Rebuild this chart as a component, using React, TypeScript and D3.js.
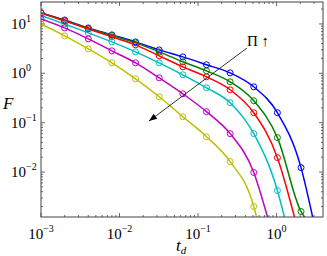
import React, { useEffect, useRef } from 'react';
import * as d3 from 'd3';

// sample times (markers), doubling from 1e-3
const times = [0.001, 0.002, 0.004, 0.008, 0.016, 0.032, 0.064, 0.128, 0.256, 0.512, 1.024, 2.048];

// F values, one array per curve (Pi increasing top to bottom)
const blueF = [16.7, 12.0, 8.3, 6.0, 4.33, 2.98, 2.15, 1.49, 1.02, 0.533, 0.159, 0.0123];
const greenF = [16.7, 11.8, 8.1, 5.86, 4.13, 2.72, 1.71, 1.12, 0.673, 0.278, 0.0498, 0.00159];
const redF = [16.7, 11.5, 7.92, 5.46, 3.77, 2.26, 1.35, 0.849, 0.464, 0.159, 0.0196];
const cyanF = [14.9, 10.0, 6.58, 4.33, 2.72, 1.63, 0.933, 0.509, 0.254, 0.06, 0.00423];
const magentaF = [12.6, 8.3, 4.98, 2.85, 1.63, 0.811, 0.385, 0.167, 0.06, 0.0098];
const yellowF = [10.0, 5.73, 3.12, 1.63, 0.774, 0.335, 0.132, 0.052, 0.0163, 0.00201];

// where each curve leaves the plot through the bottom axis
const endTimes = [2.92, 2.38, 1.72, 1.28, 0.78, 0.565];

const seriesColors = ['#0000ff', '#008000', '#ff0000', '#00bfbf', '#bf00bf', '#bfbf00'];
const seriesValues = [blueF, greenF, redF, cyanF, magentaF, yellowF];

const xTickExps = [-3, -2, -1, 0];
const yTickExps = [-2, -1, 0, 1];

const W = 327;
const H = 256;

export default function App() {
  const svgRef = useRef<SVGSVGElement>(null);

  useEffect(() => {
    if (!svgRef.current) return;
    const svg = d3.select(svgRef.current);
    svg.selectAll('*').remove();

    const left = 41, right = 323, top = 2, bottom = 217;
    const yMin = 0.00123;
    const x = d3.scaleLog().domain([1e-3, 3.9]).range([left, right]);
    const y = d3.scaleLog().domain([yMin, 27.8]).range([bottom, top]);

    svg.append('rect').attr('width', W).attr('height', H).attr('fill', '#fff');

    svg.append('defs').append('clipPath').attr('id', 'plotclip')
      .append('rect').attr('x', left).attr('y', top).attr('width', right - left).attr('height', bottom - top);

    const axisColor = '#444';

    // minor + major ticks on all four sides (inward)
    const ticks = svg.append('g').attr('stroke', axisColor).attr('stroke-width', 0.8);
    const xMinor: number[] = [];
    for (let e = -3; e <= 0; e++) {
      for (let m = 1; m <= 9; m++) {
        const v = m * Math.pow(10, e);
        if (v <= 3.9) xMinor.push(v);
      }
    }
    xMinor.forEach((v) => {
      const major = Math.abs(Math.log10(v) - Math.round(Math.log10(v))) < 1e-9;
      const len = major ? 4 : 2;
      const px = x(v);
      ticks.append('line').attr('x1', px).attr('x2', px).attr('y1', bottom).attr('y2', bottom - len);
      ticks.append('line').attr('x1', px).attr('x2', px).attr('y1', top).attr('y2', top + len);
    });
    const yMinor: number[] = [];
    for (let e = -3; e <= 1; e++) {
      for (let m = 1; m <= 9; m++) {
        const v = m * Math.pow(10, e);
        if (v >= yMin && v <= 27.8) yMinor.push(v);
      }
    }
    yMinor.forEach((v) => {
      const major = Math.abs(Math.log10(v) - Math.round(Math.log10(v))) < 1e-9;
      const len = major ? 4 : 2;
      const py = y(v);
      ticks.append('line').attr('y1', py).attr('y2', py).attr('x1', left).attr('x2', left + len);
      ticks.append('line').attr('y1', py).attr('y2', py).attr('x1', right).attr('x2', right - len);
    });

    // curves
    const plot = svg.append('g').attr('clip-path', 'url(#plotclip)');
    const line = d3.line<[number, number]>()
      .x((d) => x(d[0]))
      .y((d) => y(d[1]))
      .curve(d3.curveMonotoneX);

    seriesValues.forEach((vals, i) => {
      const pts: [number, number][] = vals.map((v, j) => [times[j], v]);
      pts.push([endTimes[i], yMin * 0.9]);
      plot.append('path')
        .attr('d', line(pts) || '')
        .attr('fill', 'none')
        .attr('stroke', seriesColors[i])
        .attr('stroke-width', 1.5);
    });
    seriesValues.forEach((vals, i) => {
      vals.forEach((v, j) => {
        plot.append('circle')
          .attr('cx', x(times[j]))
          .attr('cy', y(v))
          .attr('r', 3)
          .attr('fill', 'none')
          .attr('stroke', seriesColors[i])
          .attr('stroke-width', 1);
      });
    });

    // frame
    svg.append('rect')
      .attr('x', left).attr('y', top)
      .attr('width', right - left).attr('height', bottom - top)
      .attr('fill', 'none').attr('stroke', axisColor).attr('stroke-width', 1);

    const font = '"Liberation Serif", "DejaVu Serif", serif';

    // x tick labels
    xTickExps.forEach((e) => {
      const t = svg.append('text')
        .attr('x', x(Math.pow(10, e)))
        .attr('y', 239)
        .attr('text-anchor', 'middle')
        .attr('font-family', font)
        .attr('font-size', 15)
        .attr('fill', '#000');
      t.append('tspan').text('10');
      t.append('tspan').attr('dy', -7).attr('font-size', 10).text(String(e).replace('-', '\u2212'));
    });

    // y tick labels
    yTickExps.forEach((e) => {
      const t = svg.append('text')
        .attr('x', 11)
        .attr('y', y(Math.pow(10, e)) + 5)
        .attr('font-family', font)
        .attr('font-size', 15)
        .attr('fill', '#000');
      t.append('tspan').text('10');
      t.append('tspan').attr('dy', -7).attr('font-size', 10).text(String(e).replace('-', '\u2212'));
    });

    // axis labels
    svg.append('text')
      .attr('x', 3).attr('y', 109)
      .attr('font-family', font).attr('font-style', 'italic').attr('font-size', 17)
      .text('F');
    const xl = svg.append('text')
      .attr('x', 176).attr('y', 251)
      .attr('font-family', font).attr('font-size', 17);
    xl.append('tspan').attr('font-style', 'italic').text('t');
    xl.append('tspan').attr('font-style', 'italic').attr('font-size', 11).attr('dy', 3).text('d');

    // arrow showing increasing Pi
    const ax1 = 247, ay1 = 48, ax2 = 149, ay2 = 121;
    svg.append('line')
      .attr('x1', ax1).attr('y1', ay1).attr('x2', ax2).attr('y2', ay2)
      .attr('stroke', '#000').attr('stroke-width', 0.8);
    const ang = Math.atan2(ay2 - ay1, ax2 - ax1);
    const hl = 8, hw = 3;
    const bx = ax2 - hl * Math.cos(ang), by = ay2 - hl * Math.sin(ang);
    const nx = -Math.sin(ang) * hw, ny = Math.cos(ang) * hw;
    svg.append('path')
      .attr('d', `M${ax2},${ay2}L${bx + nx},${by + ny}L${bx - nx},${by - ny}Z`)
      .attr('fill', '#000');
    svg.append('text')
      .attr('x', 247).attr('y', 46)
      .attr('font-family', font).attr('font-size', 15)
      .text('\u03A0 \u2191');
  }, []);

  return (
    <svg
      ref={svgRef}
      width={W}
      height={H}
      style={{ position: 'absolute', left: 0, top: 0, display: 'block' }}
    />
  );
}
